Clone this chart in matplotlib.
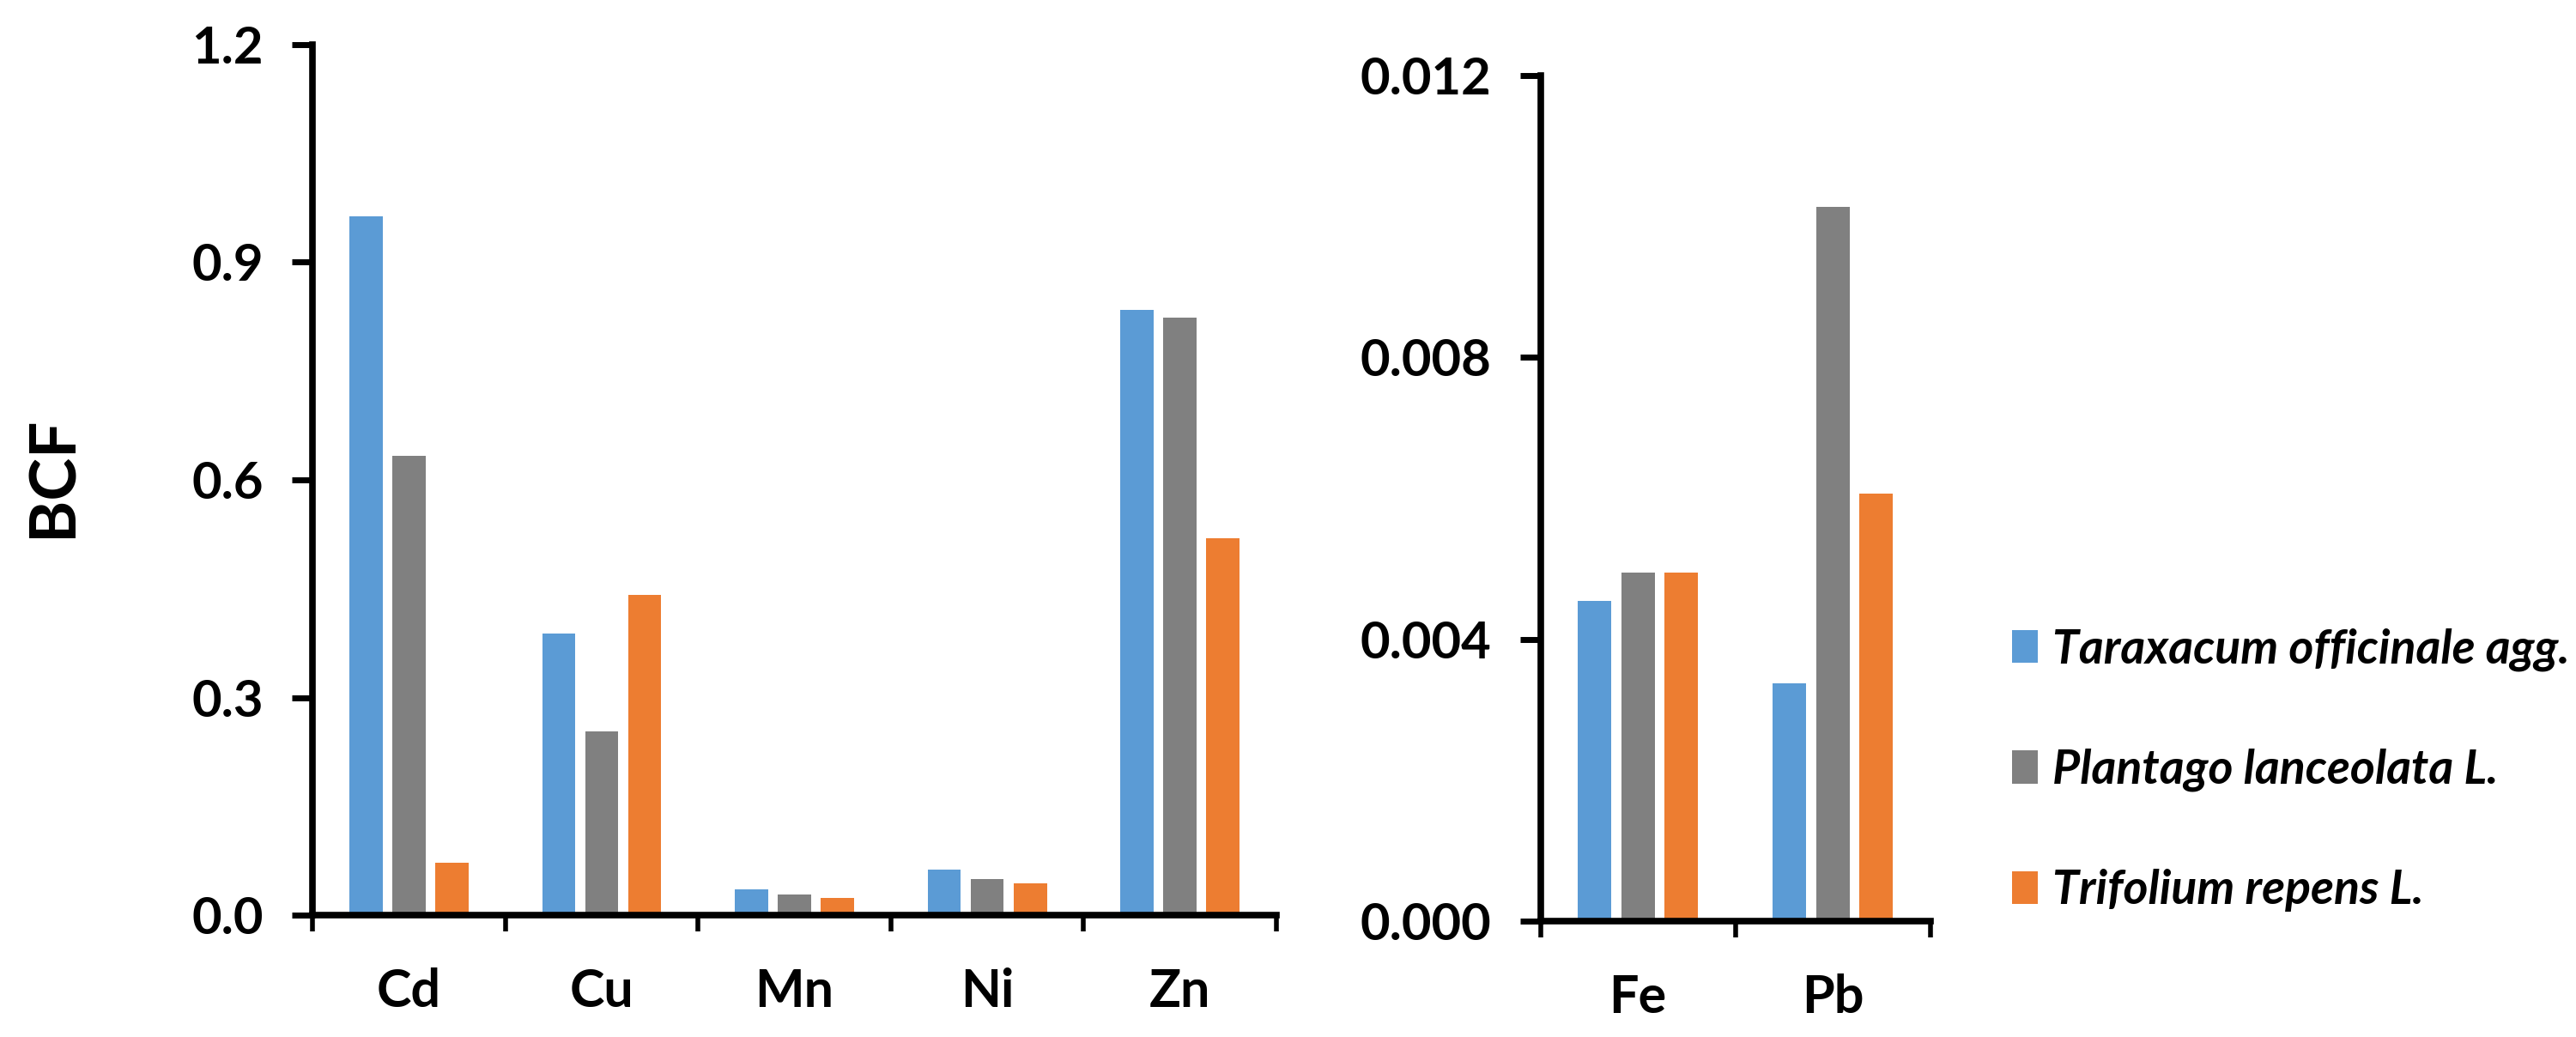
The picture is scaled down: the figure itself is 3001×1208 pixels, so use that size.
import matplotlib.pyplot as plt
import numpy as np

# data
metals_a = ['Cd', 'Cu', 'Mn', 'Ni', 'Zn']
metals_b = ['Fe', 'Pb']
species = ['Taraxacum officinale agg.', 'Plantago lanceolata L.', 'Trifolium repens L.']
colors = ['#5B9BD5', '#808080', '#ED7D31']

taraxacum_a = [0.963, 0.388, 0.036, 0.063, 0.834]
plantago_a = [0.633, 0.253, 0.028, 0.050, 0.824]
trifolium_a = [0.072, 0.441, 0.024, 0.044, 0.519]

taraxacum_b = [0.00455, 0.00337]
plantago_b = [0.00495, 0.01014]
trifolium_b = [0.00495, 0.00607]

plt.rcParams['font.family'] = ['Lato', 'DejaVu Sans']
plt.rcParams['font.weight'] = 'bold'

fig = plt.figure(figsize=(30.01, 12.08), dpi=100)
ax1 = fig.add_axes([0.1213, 0.1175, 0.3742, 0.8395])
ax2 = fig.add_axes([0.598, 0.1118, 0.1513, 0.8152])

width = 0.172
offsets = [-0.223, 0.0, 0.223]


def style_axis(ax, labels, ymax, yticks, fmt):
    n = len(labels)
    x = np.arange(n)
    ax.set_xlim(-0.5, n - 0.5)
    ax.set_ylim(0, ymax)
    # category boundaries get the tick marks, centres get the labels
    ax.set_xticks(np.arange(n + 1) - 0.5)
    ax.set_xticklabels([])
    ax.set_xticks(x, minor=True)
    ax.set_xticklabels(labels, minor=True, fontsize=44, fontweight='bold')
    ax.tick_params(axis='x', which='major', direction='out', length=14, width=4)
    ax.tick_params(axis='x', which='minor', length=0, pad=44)
    ax.set_yticks(yticks)
    ax.set_yticklabels([fmt.format(v) for v in yticks], fontsize=43, fontweight='bold')
    ax.tick_params(axis='y', direction='out', length=17, width=5, pad=24)
    for s in ['top', 'right']:
        ax.spines[s].set_visible(False)
    for s in ['left', 'bottom']:
        ax.spines[s].set_linewidth(5.5)


x1 = np.arange(len(metals_a))
for i, vals in enumerate([taraxacum_a, plantago_a, trifolium_a]):
    ax1.bar(x1 + offsets[i], vals, width, color=colors[i], label=species[i])
style_axis(ax1, metals_a, 1.2, [0.0, 0.3, 0.6, 0.9, 1.2], '{:.1f}')

fig.text(0.0207, 0.54, 'BCF', rotation=90, ha='center', va='center',
         fontsize=54, fontweight='bold')

x2 = np.arange(len(metals_b))
handles = []
for i, vals in enumerate([taraxacum_b, plantago_b, trifolium_b]):
    h = ax2.bar(x2 + offsets[i], vals, width, color=colors[i], label=species[i])
    handles.append(h)
style_axis(ax2, metals_b, 0.012, [0.000, 0.004, 0.008, 0.012], '{:.3f}')

fig.legend(handles, species, loc='center left', bbox_to_anchor=(0.7717, 0.2575),
           frameon=False, borderpad=0, handlelength=0.55, handleheight=0.7,
           handletextpad=0.3, labelspacing=1.62,
           prop={'family': 'Lato', 'style': 'italic', 'weight': 'bold', 'size': 40})

fig.savefig('out.png', dpi=100)
